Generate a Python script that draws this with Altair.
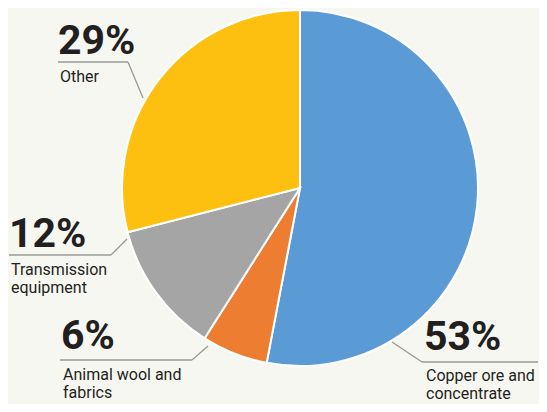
import altair as alt
import pandas as pd

# ---- data ----
categories = ["Copper ore and concentrate", "Animal wool and fabrics", "Transmission equipment", "Other"]
shares = [53, 6, 12, 29]
pct_labels = ["53%", "6%", "12%", "29%"]
name_lines = [["Copper ore and", "concentrate"], ["Animal wool and", "fabrics"], ["Transmission", "equipment"], ["Other"]]
colors = ["#5b9bd5", "#ed7d31", "#a5a5a5", "#fdc010"]

# ---- layout (pixels, annotation placement only) ----
CX, CY, R = 292, 180, 178
label_left = [416, 53, 1, 50]
pct_base = [342, 341, 239, 46]
name_base = [373, 372, 267, 74]
line_gap = 18
underline_y = [354, 352, 247, 54]
underline_x = [[414, 530], [52, 184], [1, 103], [50, 120]]
leader_end = [[384, 334], [200, 338], [119, 231], [135, 90]]

BG = "#f7f7f2"
TXT = "#231f20"
LINE = "#9a9a9a"

pie_df = pd.DataFrame({"cat": categories, "share": shares, "order": list(range(len(shares)))})

pct_df = pd.DataFrame({"x": label_left, "y": pct_base, "t": pct_labels})
name_rows = []
for i, lines in enumerate(name_lines):
    for j, ln in enumerate(lines):
        name_rows.append({"x": label_left[i] + 2, "y": name_base[i] + j * line_gap, "t": ln})
name_df = pd.DataFrame(name_rows)

seg_rows = []
for i in range(len(categories)):
    x0, x1 = underline_x[i]
    seg_rows.append({"x": x0, "y": underline_y[i], "x2": x1, "y2": underline_y[i]})
    join = x0 if i == 0 else x1
    seg_rows.append({"x": join, "y": underline_y[i], "x2": leader_end[i][0], "y2": leader_end[i][1]})
seg_df = pd.DataFrame(seg_rows)

pie = alt.Chart(pie_df).mark_arc(outerRadius=R, stroke="white", strokeWidth=2).encode(
    theta=alt.Theta("share:Q", stack=True),
    order=alt.Order("order:Q"),
    color=alt.Color("cat:N", scale=alt.Scale(domain=categories, range=colors), legend=None),
    x=alt.value(CX),
    y=alt.value(CY),
)

segs = alt.Chart(seg_df).mark_rule(color=LINE, strokeWidth=1.3).encode(
    x=alt.X("x:Q", scale=None),
    y=alt.Y("y:Q", scale=None),
    x2="x2:Q",
    y2="y2:Q",
)

pcts = alt.Chart(pct_df).mark_text(
    font="Roboto", fontWeight="bold", fontSize=41, align="left", baseline="alphabetic", color=TXT
).encode(x=alt.X("x:Q", scale=None), y=alt.Y("y:Q", scale=None), text="t:N")

names = alt.Chart(name_df).mark_text(
    font="Roboto", fontSize=16, align="left", baseline="alphabetic", color=TXT
).encode(x=alt.X("x:Q", scale=None), y=alt.Y("y:Q", scale=None), text="t:N")

chart = alt.layer(pie, segs, pcts, names).properties(
    width=531, height=396, padding=0, autosize=alt.AutoSizeParams(type="none"), background=BG
).configure_view(stroke=None)

chart.save("out.html", embed_options={"renderer": "svg", "actions": False})
